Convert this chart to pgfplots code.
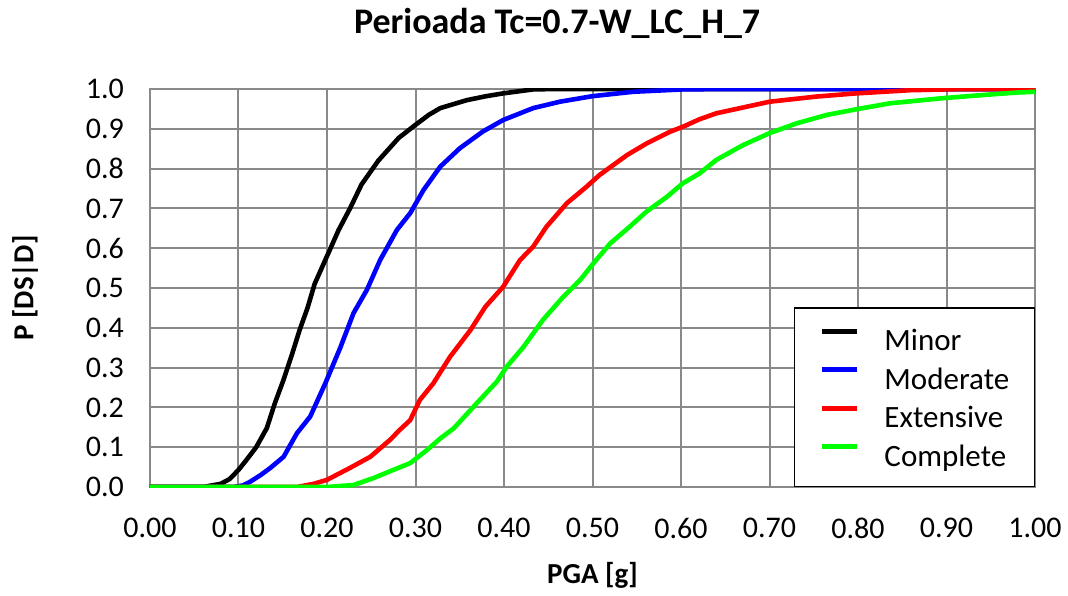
\documentclass[border=0pt]{standalone}
\usepackage{pgfplots}
\pgfplotsset{compat=1.18}
\usepackage{fontspec}
\setmainfont{Carlito}
\definecolor{gridgray}{RGB}{137,137,137}
\definecolor{xgreen}{RGB}{0,255,0}
\begin{document}
\fontsize{30}{34}\selectfont
\begin{tikzpicture}
\useasboundingbox (-150pt,-108pt) rectangle (918pt,487pt);
\begin{axis}[
  scale only axis,
  width=885pt, height=398pt,
  xmin=0, xmax=1, ymin=0, ymax=1,
  xtick={0,0.1,...,1.0}, ytick={0,0.1,...,1.0},
  grid=major,
  major grid style={gridgray, line width=2pt},
  axis line style={gridgray, line width=2pt},
  major tick length=0pt,
  /pgf/number format/assume math mode=true,
  xticklabel style={font=\fontsize{30}{34}\selectfont, /pgf/number format/.cd, fixed, fixed zerofill, precision=2},
  yticklabel style={font=\fontsize{30}{34}\selectfont, /pgf/number format/.cd, fixed, fixed zerofill, precision=1},
  xtick pos=bottom, ytick pos=left,
  xticklabel shift=21pt, yticklabel shift=16pt,
  title={\bfseries Perioada Tc=0.7-W\_LC\_H\_7},
  title style={font=\fontsize{36}{40}\selectfont, at={(axis description cs:0.46,1.15)}, anchor=center},
  xlabel={\bfseries PGA [g]},
  ylabel={\bfseries P [DS|D]},
  xlabel style={font=\fontsize{29}{33}\selectfont, at={(axis description cs:0.5,-0.221)}, anchor=center},
  ylabel style={font=\fontsize{29}{33}\selectfont, at={(axis description cs:-0.1412,0.5)}, anchor=center},
  legend style={at={(1,0)}, anchor=south east, draw=black, line width=1.5pt,
    font=\fontsize{31}{35}\selectfont, inner xsep=25pt, inner ysep=17pt,
    row sep=9.5pt,
    nodes={inner sep=0pt, text height=26pt, text depth=3pt},
    /tikz/every odd column/.append style={column sep=25pt},
    legend cell align=left},
  legend image code/.code={\draw[#1, line width=5pt] (0pt,8pt) -- (35pt,8pt);},
  every axis plot/.append style={line width=4.6pt},
]
\addplot[black] coordinates {(0,0) (0.06,0) (0.08,0.008) (0.09,0.02) (0.10,0.043) (0.109,0.068) (0.12,0.10) (0.132,0.148) (0.141,0.21) (0.151,0.27) (0.16,0.33) (0.169,0.394) (0.178,0.45) (0.186,0.51) (0.201,0.585) (0.213,0.645) (0.226,0.70) (0.239,0.76) (0.258,0.82) (0.281,0.877) (0.30,0.91) (0.315,0.935) (0.328,0.952) (0.358,0.972) (0.38,0.982) (0.399,0.989) (0.433,0.999) (0.46,1.0) (1.0,1.0)};
\addplot[blue] coordinates {(0,0) (0.094,0) (0.105,0.004) (0.113,0.013) (0.125,0.03) (0.136,0.048) (0.151,0.076) (0.166,0.135) (0.181,0.177) (0.198,0.26) (0.215,0.35) (0.23,0.437) (0.245,0.495) (0.26,0.57) (0.279,0.646) (0.294,0.688) (0.309,0.746) (0.328,0.805) (0.35,0.851) (0.376,0.893) (0.399,0.922) (0.433,0.952) (0.463,0.968) (0.50,0.982) (0.546,0.993) (0.602,0.999) (0.65,1.0) (1,1)};
\addplot[red] coordinates {(0,0) (0.166,0) (0.185,0.008) (0.20,0.018) (0.226,0.048) (0.249,0.076) (0.271,0.118) (0.282,0.143) (0.294,0.168) (0.305,0.219) (0.32,0.26) (0.339,0.327) (0.362,0.394) (0.379,0.453) (0.399,0.503) (0.418,0.57) (0.433,0.604) (0.448,0.654) (0.471,0.713) (0.493,0.754) (0.508,0.784) (0.539,0.834) (0.561,0.863) (0.588,0.893) (0.602,0.905) (0.621,0.924) (0.64,0.939) (0.70,0.968) (0.753,0.981) (0.798,0.989) (0.859,0.997) (0.92,1.0) (1,1)};
\addplot[xgreen] coordinates {(0,0) (0.20,0) (0.23,0.005) (0.252,0.022) (0.275,0.043) (0.294,0.06) (0.313,0.093) (0.328,0.122) (0.343,0.147) (0.369,0.21) (0.392,0.265) (0.403,0.302) (0.422,0.352) (0.444,0.42) (0.467,0.478) (0.486,0.52) (0.501,0.562) (0.52,0.612) (0.542,0.654) (0.561,0.692) (0.584,0.729) (0.602,0.763) (0.621,0.788) (0.64,0.822) (0.67,0.859) (0.70,0.889) (0.731,0.914) (0.765,0.935) (0.798,0.949) (0.836,0.964) (0.896,0.977) (0.942,0.985) (0.979,0.991) (1.0,0.993)};
\legend{Minor, Moderate, Extensive, Complete}
\end{axis}
\end{tikzpicture}
\end{document}
